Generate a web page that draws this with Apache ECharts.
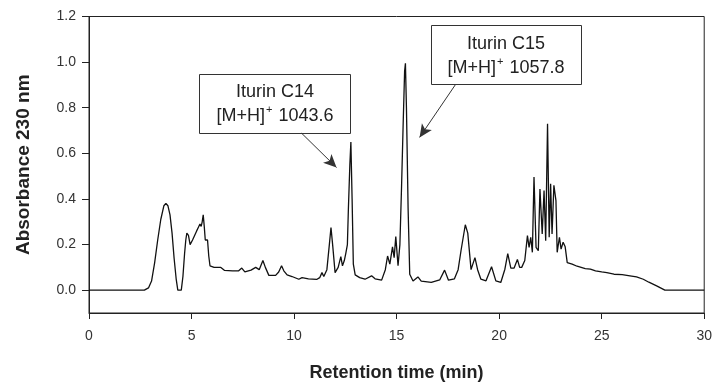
<!DOCTYPE html>
<html>
<head>
<meta charset="utf-8">
<script src="https://cdn.jsdelivr.net/npm/echarts@6/dist/echarts.min.js"></script>
<style>
  html, body { margin: 0; padding: 0; background: #fff; }
  #chart { width: 715px; height: 388px; }
</style>
</head>
<body>
<div id="chart"></div>
<script>
// retention time (min) and absorbance at 230 nm
const times = [
  0, 2.7, 2.9, 3.05, 3.2, 3.35, 3.5, 3.65, 3.75, 3.85, 3.95, 4.05, 4.15, 4.25, 4.33, 4.41, 4.5,
  4.58, 4.66, 4.72, 4.77, 4.85, 4.93, 5.05, 5.15, 5.25, 5.33, 5.41, 5.47, 5.52, 5.57, 5.62, 5.67,
  5.78, 5.84, 5.9, 6.1, 6.43, 6.6, 7.0, 7.3, 7.45, 7.6, 7.9, 8.13, 8.3, 8.48, 8.6, 8.77, 9.1, 9.25,
  9.39, 9.5, 9.66, 9.9, 10.23, 10.39, 10.7, 11.1, 11.25, 11.36, 11.45, 11.6, 11.72, 11.8, 11.88,
  12.0, 12.15, 12.28, 12.36, 12.45, 12.52, 12.6, 12.65, 12.72, 12.77, 12.83, 12.89, 12.98, 13.2,
  13.46, 13.78, 13.95, 14.27, 14.45, 14.56, 14.67, 14.8, 14.88, 14.96, 15.07, 15.16, 15.24, 15.32,
  15.39, 15.43, 15.48, 15.56, 15.64, 15.8, 16.04, 16.2, 16.69, 17.1, 17.34, 17.53, 17.82, 18.0,
  18.14, 18.35, 18.47, 18.63, 18.82, 18.95, 19.11, 19.36, 19.63, 19.84, 20.08, 20.28, 20.42, 20.57,
  20.73, 20.89, 21.0, 21.1, 21.25, 21.38, 21.46, 21.54, 21.62, 21.7, 21.8, 21.91, 21.99, 22.1,
  22.19, 22.27, 22.36, 22.44, 22.51, 22.58, 22.67, 22.77, 22.83, 22.94, 23.02, 23.12, 23.22, 23.32,
  23.56, 23.8, 24.0, 24.2, 24.45, 24.7, 25.0, 25.25, 25.6, 26.0, 26.38, 26.7, 27.03, 27.3, 27.68,
  28.08, 30
];
const absorbance = [
  0, 0, 0.01, 0.04, 0.12, 0.22, 0.31, 0.37, 0.38, 0.37, 0.33, 0.25, 0.14, 0.05, 0.0, -0.005, 0.0,
  0.06, 0.16, 0.22, 0.25, 0.24, 0.20, 0.22, 0.24, 0.26, 0.275, 0.29, 0.28, 0.30, 0.33, 0.28, 0.22,
  0.22, 0.15, 0.107, 0.10, 0.10, 0.087, 0.085, 0.085, 0.097, 0.08, 0.088, 0.10, 0.09, 0.13, 0.10, 0.065, 0.065, 0.08,
  0.107, 0.085, 0.067, 0.06, 0.048, 0.055, 0.05, 0.047, 0.055, 0.077, 0.06, 0.09, 0.2, 0.275, 0.2,
  0.077, 0.1, 0.147, 0.107, 0.13, 0.16, 0.2, 0.36, 0.55, 0.65, 0.4, 0.114, 0.067, 0.055,
  0.048, 0.063, 0.05, 0.044, 0.09, 0.15, 0.114, 0.19, 0.143, 0.235, 0.107, 0.2, 0.45, 0.73,
  0.96, 0.995, 0.8, 0.36, 0.07, 0.04, 0.058, 0.04, 0.034, 0.045, 0.088, 0.044, 0.05, 0.09,
  0.173, 0.287, 0.25, 0.09, 0.143, 0.09, 0.048, 0.041, 0.103, 0.041, 0.034, 0.092, 0.16, 0.097,
  0.097, 0.135, 0.1, 0.1, 0.13, 0.239, 0.188, 0.232, 0.166, 0.496, 0.188, 0.173, 0.444, 0.246,
  0.437, 0.217, 0.73, 0.232, 0.467, 0.246, 0.46, 0.393, 0.166, 0.232, 0.18, 0.21, 0.19, 0.121,
  0.114, 0.105, 0.1, 0.095, 0.092, 0.085, 0.08, 0.077, 0.07, 0.068, 0.063, 0.058, 0.048, 0.035, 0.019,
  0, 0
];
const yTicks = [0, 0.2, 0.4, 0.6, 0.8, 1.0, 1.2];

// annotation arrows: [start, tip] in data units
const arrowC14 = [[10.37, 0.688], [12.07, 0.538]];
const arrowC15 = [[17.89, 0.904], [16.12, 0.67]];

const chart = echarts.init(document.getElementById('chart'));
const font = 'Arial, "Liberation Sans", sans-serif';

chart.setOption({
  animation: false,
  grid: {
    left: 89, right: 7, top: 16.5, bottom: 75,
    show: true, borderColor: '#222', borderWidth: 1, backgroundColor: 'transparent'
  },
  xAxis: {
    type: 'value', min: 0, max: 30, interval: 5,
    name: 'Retention time (min)', nameLocation: 'middle', nameGap: 51,
    nameTextStyle: { fontFamily: font, fontSize: 18, fontWeight: 'bold', color: '#222' },
    axisLine: { onZero: false, lineStyle: { color: '#222', width: 1 } },
    axisTick: { inside: false, length: 6, lineStyle: { color: '#222' } },
    axisLabel: { margin: 16, fontFamily: font, fontSize: 14, color: '#333' },
    splitLine: { show: false }
  },
  yAxis: {
    type: 'value', min: -0.1, max: 1.2,
    name: 'Absorbance 230 nm', nameLocation: 'middle', nameGap: 56,
    nameTextStyle: { fontFamily: font, fontSize: 19, fontWeight: 'bold', color: '#222' },
    axisLine: { show: true, onZero: false, lineStyle: { color: '#222', width: 1 } },
    axisTick: { show: true, inside: false, length: 7, customValues: yTicks, lineStyle: { color: '#222' } },
    axisLabel: {
      margin: 13, fontFamily: font, fontSize: 14, color: '#333',
      customValues: yTicks, formatter: v => v.toFixed(1)
    },
    splitLine: { show: false }
  },
  series: [{
    type: 'line',
    data: times.map((t, i) => [t, absorbance[i]]),
    symbol: 'none',
    lineStyle: { color: '#111', width: 1.3 },
    markLine: {
      silent: true,
      symbol: ['none', 'arrow'],
      symbolSize: [9, 13],
      label: { show: false },
      lineStyle: { color: '#333', width: 1, type: 'solid' },
      data: [
        [{ coord: arrowC14[0] }, { coord: arrowC14[1] }],
        [{ coord: arrowC15[0] }, { coord: arrowC15[1] }]
      ]
    }
  }],
  graphic: [
    {
      type: 'rect', shape: { x: 199.5, y: 74.5, width: 151, height: 59 },
      style: { fill: '#fff', stroke: '#333', lineWidth: 1 }
    },
    {
      type: 'text', x: 275, y: 104,
      style: {
        text: 'Iturin C14\n[M+H]{sup|+} 1043.6',
        fontFamily: font, fontSize: 18, fill: '#222', lineHeight: 24,
        align: 'center', verticalAlign: 'middle',
        rich: { sup: { fontSize: 11, verticalAlign: 'top', padding: [0, 1, 8, 1], fill: '#222' } }
      }
    },
    {
      type: 'rect', shape: { x: 431.5, y: 25.5, width: 150, height: 59 },
      style: { fill: '#fff', stroke: '#333', lineWidth: 1 }
    },
    {
      type: 'text', x: 506, y: 56,
      style: {
        text: 'Iturin C15\n[M+H]{sup|+} 1057.8',
        fontFamily: font, fontSize: 18, fill: '#222', lineHeight: 24,
        align: 'center', verticalAlign: 'middle',
        rich: { sup: { fontSize: 11, verticalAlign: 'top', padding: [0, 1, 8, 1], fill: '#222' } }
      }
    }
  ]
});
</script>
</body>
</html>
